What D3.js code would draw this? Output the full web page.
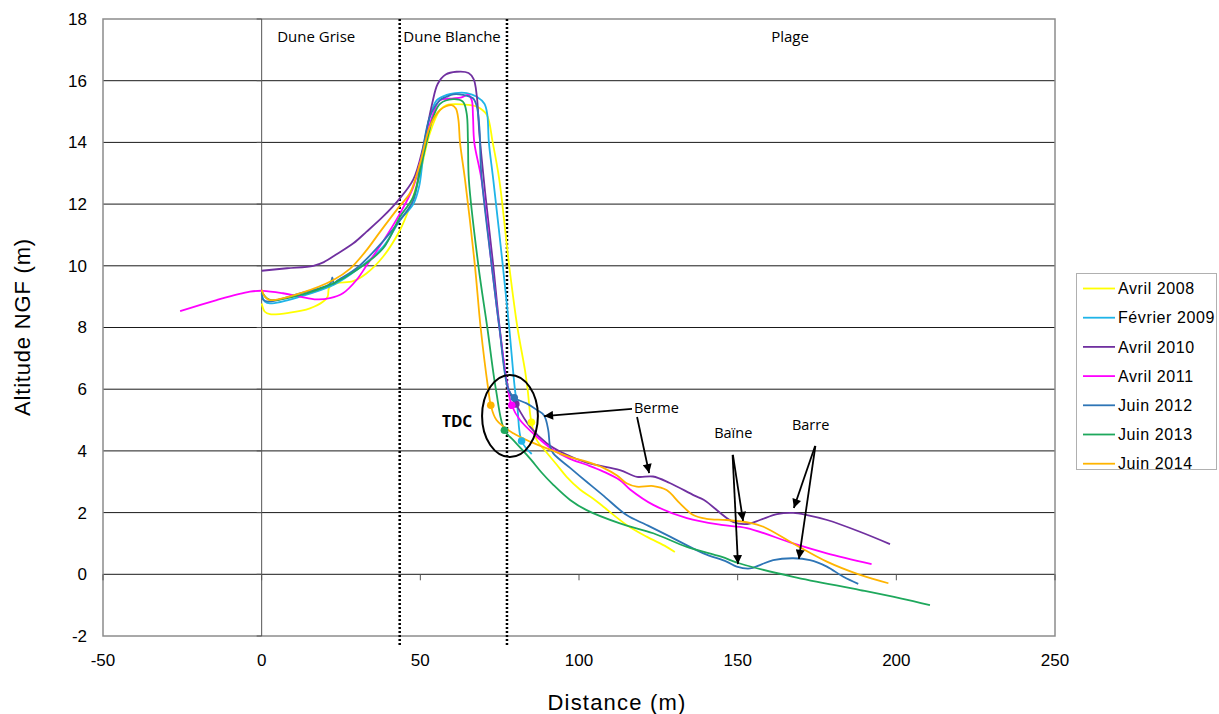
<!DOCTYPE html>
<html><head><meta charset="utf-8">
<script src="https://cdn.jsdelivr.net/npm/d3@7"></script>
<style>
html,body{margin:0;padding:0;background:#fff;}
svg{display:block;}
</style></head>
<body>
<svg id="chart" width="1219" height="714"></svg>
<script>
// ---------- DATA ----------
const seriesNames = ["Avril 2008","Février 2009","Avril 2010","Avril 2011","Juin 2012","Juin 2013","Juin 2014"];
const seriesColors = ["#FFFF00","#1FB4E8","#7030A0","#FF00FF","#2E75B6","#1EA85C","#FFB400"];

const avril2008 = [[0,8.78],[1,8.51],[2.6,8.43],[8.9,8.48],[15.2,8.62],[19.4,8.84],[20.8,9.0],[21.3,9.3],[23.6,9.43],[28.8,9.5],[33,9.75],[38.3,10.3],[43.6,11.16],[46.7,11.92],[49.9,13.0],[53,14.3],[56.2,15.05],[58.3,15.21],[63.5,15.23],[67.8,15.16],[70.9,14.9],[72.8,14.0],[74.9,12.78],[78,10],[80.6,8],[83,6.6],[83.8,6.0],[85,4.93],[86.7,4.35],[89.8,3.95],[93,3.55],[96.1,3.16],[100.3,2.75],[104.5,2.45],[107.7,2.19],[115,1.6],[121.3,1.22],[127.6,0.89],[130.2,0.72]];
const fevrier2009 = [[0,9.05],[1,8.84],[2.6,8.78],[12.1,9.0],[22.6,9.38],[29.9,9.86],[38.3,10.62],[43.6,11.48],[47.8,12.0],[49.6,12.56],[50.9,13.54],[53,14.83],[55.2,15.37],[58.3,15.54],[61,15.6],[64.6,15.6],[67.8,15.48],[70.2,15.25],[71.1,14.9],[71.6,14.0],[73,12.78],[76,10],[78,8],[79.8,6],[80.6,5.4],[81.9,4.32],[85.1,3.9]];
const avril2010 = [[0,9.84],[8,9.92],[16.3,10.0],[19.6,10.12],[24,10.4],[28.9,10.73],[33,11.1],[38.3,11.6],[43.1,12.13],[47.8,12.8],[50.9,13.86],[53.6,15.2],[55.5,15.9],[58,16.2],[61.4,16.29],[65.2,16.25],[66.8,16.05],[67.8,15.5],[68.6,14.3],[70.4,12.4],[73,10],[75,8],[77.8,6.0],[80.1,5.52],[84.6,4.78],[89.8,4.25],[95,3.93],[102.4,3.62],[112.9,3.38],[118.3,3.16],[123.3,3.17],[128.6,2.96],[136.4,2.55],[139.4,2.41],[148.5,1.7],[153,1.63],[157,1.76],[162.4,1.95],[167.5,1.99],[171.9,1.92],[178.2,1.76],[188.5,1.38],[198,0.98]];
const avril2011 = [[-25.7,8.53],[-14.2,8.89],[-3.7,9.16],[0.4,9.19],[6.7,9.11],[12.1,9.0],[17.3,8.91],[21.5,8.95],[25.6,9.11],[29.9,9.54],[33,10.0],[38.3,10.8],[43.6,11.7],[47.8,12.56],[50.9,13.75],[54.1,14.94],[56.2,15.37],[60,15.42],[63,15.46],[65.1,15.54],[66.2,15.37],[66.6,14.83],[67,14.0],[69.3,12.78],[72.5,10],[74.9,8],[77.6,6],[78.8,5.48],[81.4,5.0],[86.7,4.46],[91.9,4.03],[97,3.75],[102.4,3.55],[107.7,3.33],[112.9,3.05],[116.1,2.75],[123.4,2.25],[134,1.82],[144.8,1.6],[152.9,1.5],[167.5,1.0],[178.1,0.68],[192.2,0.33]];
const juin2012 = [[0,9.11],[0.5,8.9],[2.1,8.84],[12.1,9.11],[21.5,9.41],[22.3,9.62],[22.7,9.42],[23.6,9.5],[29.9,9.92],[38.3,10.8],[43.6,11.48],[47.8,12.13],[49.9,13.21],[53,14.83],[56.2,15.37],[58.3,15.48],[60.4,15.56],[63.5,15.54],[66.6,15.43],[67.8,15.16],[68.6,14.5],[69.2,13],[72.5,10],[74.9,8],[77.7,6],[79.6,5.72],[83.5,5.54],[86.7,5.33],[89.0,5.15],[90.3,4.68],[90.9,4.14],[91.9,3.92],[97.2,3.45],[102.4,3.0],[107.7,2.55],[115,1.92],[121.3,1.6],[128.7,1.22],[139.2,0.68],[146.5,0.41],[149.7,0.25],[153.9,0.19],[157,0.3],[161.2,0.46],[167.5,0.52],[172.8,0.46],[178.1,0.25],[183.3,-0.08],[188,-0.31]];
const juin2013 = [[0,9.16],[1.6,8.95],[3.2,8.89],[12.1,9.05],[22.6,9.43],[29.9,9.86],[38.3,10.57],[43.6,11.59],[47.8,12.24],[50.9,13.54],[54.1,14.83],[56.2,15.25],[60.3,15.4],[63.4,15.32],[64.6,14.94],[65,14.07],[65.3,12.78],[68.3,10],[71.1,8],[73.8,6],[76.5,4.67],[79.3,4.35],[82,4.05],[85,3.7],[88.2,3.3],[91.9,2.9],[97.2,2.41],[102.4,2.08],[112.9,1.65],[123.4,1.33],[134,0.89],[144.8,0.57],[150.7,0.35],[167.5,-0.08],[188.6,-0.51],[201.3,-0.78],[210.6,-1.0]];
const juin2014 = [[0,9.22],[1,9.0],[2.6,8.89],[12.1,9.11],[22.6,9.54],[27.8,9.9],[33,10.5],[37.3,11.1],[43.6,11.95],[46.7,12.35],[49.9,13.32],[53,14.51],[56.2,15.05],[59.9,15.21],[61.2,15.1],[62,14.73],[62.5,14.0],[64.1,12.78],[67.2,10],[69,8],[71.4,6],[72.2,5.48],[74,5.0],[79.3,4.57],[84.6,4.3],[91.9,4.0],[97.2,3.8],[102.4,3.65],[107.7,3.45],[112,3.2],[115,2.95],[118.2,2.84],[123.4,2.86],[127.6,2.73],[131.8,2.3],[136,1.92],[140.2,1.8],[146.5,1.76],[153.9,1.67],[158.1,1.54],[167.5,1.0],[178.1,0.41],[188.6,-0.02],[197.5,-0.29]];
const seriesData = [avril2008, fevrier2009, avril2010, avril2011, juin2012, juin2013, juin2014];

// TDC (top of dune) points, one per series
const tdcX = [85.0, 81.9, 80.1, 78.8, 79.6, 76.5, 72.2];
const tdcY = [4.93, 4.32, 5.52, 5.48, 5.72, 4.67, 5.48];

// axis ticks
const xTicks = [-50, 0, 50, 100, 150, 200, 250];
const yTicks = [-2, 0, 2, 4, 6, 8, 10, 12, 14, 16, 18];

// zones
const zoneBounds = [43.5, 77.3];
const zoneLabels = ["Dune Grise", "Dune Blanche", "Plage"];
const zoneLabelX = [17.2, 60.0, 166.5];

// annotations (data units)
const annotTexts = ["Berme", "Baïne", "Barre"];
const annotTextPos = [[117.3, 5.23], [142.6, 4.42], [167.1, 4.68]];
const annotArrows = [
  [[116.7, 5.36], [89.0, 5.13]],
  [[118.3, 5.10], [122.1, 3.28]],
  [[148.5, 3.87], [151.7, 1.73]],
  [[148.4, 3.87], [150.1, 0.33]],
  [[174.4, 4.16], [167.7, 2.15]],
  [[174.5, 4.16], [169.3, 0.50]]
];
const tdcEllipse = {cx: 78.25, cy: 5.13, rx: 8.8, ry: 1.33};

// ---------- CHART ----------
const svg = d3.select("#chart");
const L = 103, R = 1055, T = 19, B = 636;
const x = d3.scaleLinear().domain([-50, 250]).range([L, R]);
const y = d3.scaleLinear().domain([-2, 18]).range([B, T]);

// gridlines
svg.append("g").selectAll("line").data(yTicks.filter(v => v > -2 && v < 18)).join("line")
  .attr("x1", L).attr("x2", R).attr("y1", d => y(d)).attr("y2", d => y(d))
  .attr("stroke", "#1a1a1a").attr("stroke-width", 1);

// plot border
svg.append("rect").attr("x", L).attr("y", T).attr("width", R - L).attr("height", B - T)
  .attr("fill", "none").attr("stroke", "#8c8c8c").attr("stroke-width", 1.5);

// vertical axis at x=0
svg.append("line").attr("x1", x(0)).attr("x2", x(0)).attr("y1", T).attr("y2", B)
  .attr("stroke", "#555").attr("stroke-width", 1);
svg.append("g").selectAll("line").data(yTicks).join("line")
  .attr("x1", x(0) - 5).attr("x2", x(0)).attr("y1", d => y(d)).attr("y2", d => y(d))
  .attr("stroke", "#555").attr("stroke-width", 1);
// horizontal axis ticks at y=0
svg.append("g").selectAll("line").data(xTicks).join("line")
  .attr("x1", d => x(d)).attr("x2", d => x(d)).attr("y1", y(0)).attr("y2", y(0) + 6)
  .attr("stroke", "#555").attr("stroke-width", 1);

// tick labels
svg.append("g").selectAll("text").data(yTicks).join("text")
  .attr("x", 87).attr("y", d => y(d)).attr("dy", "0.35em")
  .attr("text-anchor", "end")
  .attr("font-family", "Liberation Sans, Arial, sans-serif").attr("font-size", 17)
  .attr("fill", "#000").text(d => d);
svg.append("g").selectAll("text").data(xTicks).join("text")
  .attr("x", d => x(d)).attr("y", 666)
  .attr("text-anchor", "middle")
  .attr("font-family", "Liberation Sans, Arial, sans-serif").attr("font-size", 17)
  .attr("fill", "#000").text(d => d);

// axis titles
svg.append("text").attr("x", 617).attr("y", 710).attr("text-anchor", "middle")
  .attr("font-family", "Liberation Sans, Arial, sans-serif").attr("font-size", 22)
  .attr("letter-spacing", "1.2px").text("Distance (m)");
svg.append("text").attr("transform", "translate(30,327) rotate(-90)").attr("text-anchor", "middle")
  .attr("font-family", "Liberation Sans, Arial, sans-serif").attr("font-size", 22)
  .attr("letter-spacing", "0.8px").text("Altitude NGF (m)");

// zone dotted lines
svg.append("g").selectAll("line").data(zoneBounds).join("line")
  .attr("x1", d => x(d)).attr("x2", d => x(d)).attr("y1", T).attr("y2", B + 9)
  .attr("stroke", "#000").attr("stroke-width", 2.5).attr("stroke-dasharray", "2,2");

// zone labels
svg.append("g").selectAll("text").data(zoneLabels).join("text")
  .attr("x", (d, i) => x(zoneLabelX[i])).attr("y", y(17.25))
  .attr("text-anchor", "middle")
  .attr("font-family", "Open Sans, Noto Sans, sans-serif").attr("font-size", 15)
  .attr("fill", "#000").text(d => d);

// series lines
const line = d3.line().x(d => x(d[0])).y(d => y(d[1])).curve(d3.curveCatmullRom.alpha(0.5));
svg.append("g").selectAll("path").data(seriesData).join("path")
  .attr("d", d => line(d)).attr("fill", "none")
  .attr("stroke", (d, i) => seriesColors[i]).attr("stroke-width", 1.8)
  .attr("stroke-linejoin", "round");

// TDC dots
svg.append("g").selectAll("circle").data(tdcX).join("circle")
  .attr("cx", d => x(d)).attr("cy", (d, i) => y(tdcY[i])).attr("r", 3.8)
  .attr("fill", (d, i) => seriesColors[i]);

// ellipse + TDC label
svg.append("ellipse")
  .attr("cx", x(tdcEllipse.cx)).attr("cy", y(tdcEllipse.cy))
  .attr("rx", x(tdcEllipse.cx + tdcEllipse.rx) - x(tdcEllipse.cx))
  .attr("ry", y(tdcEllipse.cy) - y(tdcEllipse.cy + tdcEllipse.ry))
  .attr("fill", "none").attr("stroke", "#000").attr("stroke-width", 2);
svg.append("text").attr("x", x(56.8)).attr("y", y(4.77))
  .attr("font-family", "Open Sans, Noto Sans, sans-serif").attr("font-size", 15.5)
  .attr("font-weight", "bold").text("TDC");

// arrows
const defs = svg.append("defs");
defs.append("marker").attr("id", "arr").attr("viewBox", "0 0 10 10")
  .attr("refX", 10).attr("refY", 5).attr("markerWidth", 11).attr("markerHeight", 9)
  .attr("markerUnits", "userSpaceOnUse").attr("orient", "auto")
  .append("path").attr("d", "M0,0 L10,5 L0,10 z").attr("fill", "#000");
svg.append("g").selectAll("line").data(annotArrows).join("line")
  .attr("x1", d => x(d[0][0])).attr("y1", d => y(d[0][1]))
  .attr("x2", d => x(d[1][0])).attr("y2", d => y(d[1][1]))
  .attr("stroke", "#000").attr("stroke-width", 1.8).attr("marker-end", "url(#arr)");
svg.append("g").selectAll("text").data(annotTexts).join("text")
  .attr("x", (d, i) => x(annotTextPos[i][0])).attr("y", (d, i) => y(annotTextPos[i][1]))
  .attr("font-family", "Open Sans, Noto Sans, sans-serif").attr("font-size", 14.5)
  .attr("fill", "#000").text(d => d);

// legend
const lg = svg.append("g");
lg.append("rect").attr("x", 1076.5).attr("y", 273.5).attr("width", 140).attr("height", 196)
  .attr("fill", "#fff").attr("stroke", "#b0b0b0").attr("stroke-width", 1);
const rows = lg.selectAll("g.row").data(seriesNames).join("g").attr("class", "row")
  .attr("transform", (d, i) => `translate(0,${288.5 + i * 29.2})`);
rows.append("line").attr("x1", 1083).attr("x2", 1115).attr("y1", 0).attr("y2", 0)
  .attr("stroke", (d, i) => seriesColors[i]).attr("stroke-width", 1.8);
rows.append("text").attr("x", 1118).attr("y", 0).attr("dy", "0.35em")
  .attr("font-family", "Liberation Sans, Arial, sans-serif").attr("font-size", 16)
  .attr("letter-spacing", "0.6px").text(d => d);
</script>
</body></html>
